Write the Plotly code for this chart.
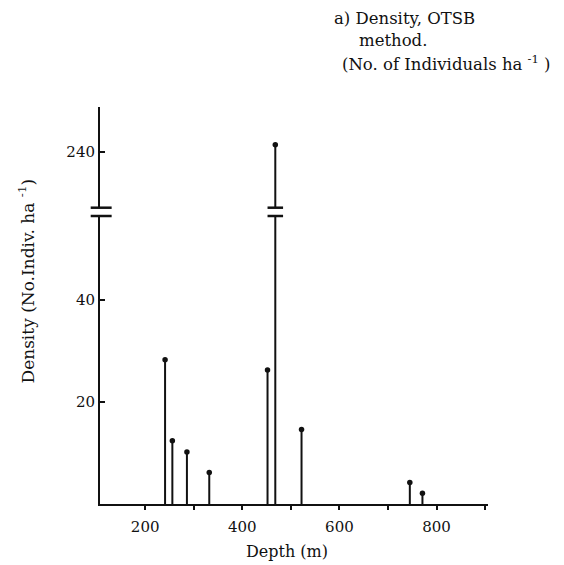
import plotly.graph_objects as go

# Data
depth_m = [241, 256, 286, 332, 452, 468, 522, 745, 771]
density = [28.3, 12.4, 10.2, 6.2, 26.3, 241.4, 14.6, 4.2, 2.1]

x_ticks = [200, 400, 600, 800]
y_ticks_low = [20, 40]
y_ticks_high = [240]

x_range = [107, 906]
low_range = [0, 56.5]
high_range = [229.1, 248.8]

W, H = 564, 565
OFF = 8  # page body margin
L_PX, R_PX, T_PX, B_PX = 100, 488, 107, 504  # target plot-area edges in the picture
ml, mr = L_PX - OFF, W - R_PX + OFF
mt, mb = T_PX - OFF, H - B_PX + OFF
plot_w = R_PX - L_PX
plot_h = B_PX - T_PX
low_top_px = 216.0
high_bot_px = 207.7
low_dom = [0, (B_PX - low_top_px) / plot_h]
high_dom = [(B_PX - high_bot_px) / plot_h, 1]

FONT = "DejaVu Serif"
BLACK = "#111111"

# stems built from data
sx, sy = [], []
for d, v in zip(depth_m, density):
    sx += [d, d, None]
    sy += [0, v, None]

fig = go.Figure()
for xa, ya in (("x", "y"), ("x2", "y2")):
    fig.add_trace(go.Scatter(x=sx, y=sy, mode="lines", xaxis=xa, yaxis=ya,
                             line=dict(color=BLACK, width=2), hoverinfo="skip",
                             showlegend=False))
    fig.add_trace(go.Scatter(x=depth_m, y=density, mode="markers", xaxis=xa, yaxis=ya,
                             marker=dict(color=BLACK, size=5.5), showlegend=False))

tick_font = dict(family=FONT, size=15, color=BLACK)
axis_common = dict(showline=True, linecolor=BLACK, linewidth=2, showgrid=False,
                   zeroline=False, tickfont=tick_font, automargin=False)

fig.update_layout(
    width=W, height=H, margin=dict(l=ml, r=mr, t=mt, b=mb),
    paper_bgcolor="white", plot_bgcolor="white",
    xaxis=dict(domain=[0, 1], range=x_range, anchor="y", tickvals=x_ticks,
               ticks="outside", ticklen=4, tickwidth=1.5, tickcolor=BLACK,
               ticklabelstandoff=4,
               minor=dict(dtick=100, tick0=0, ticks="outside", ticklen=4,
                          tickwidth=1.5, tickcolor=BLACK),
               **axis_common),
    xaxis2=dict(domain=[0, 1], range=x_range, anchor="y2", matches="x", visible=False),
    yaxis=dict(domain=low_dom, range=low_range, anchor="x", tickvals=y_ticks_low,
               ticks="inside", ticklen=5, tickwidth=1.5, tickcolor=BLACK, **axis_common),
    yaxis2=dict(domain=high_dom, range=high_range, anchor="x2", tickvals=y_ticks_high,
                ticks="inside", ticklen=5, tickwidth=1.5, tickcolor=BLACK, **axis_common),
)

# break marks on the y axis
for yref, yv in (("y domain", 1), ("y2 domain", 0)):
    fig.add_shape(type="line", xref="x domain", yref=yref, x0=-0.024, x1=0.03,
                  y0=yv, y1=yv, line=dict(color=BLACK, width=2.5))
# break marks on stems that exceed the lower panel
for d, v in zip(depth_m, density):
    if v > low_range[1]:
        for yref, yv in (("y domain", 1), ("y2 domain", 0)):
            fig.add_shape(type="line", xref="x", yref=yref, x0=d - 16, x1=d + 16,
                          y0=yv, y1=yv, line=dict(color=BLACK, width=2.5))

def py(px):
    return (B_PX - px) / plot_h

def pxx(px):
    return (px - L_PX) / plot_w

fig.add_annotation(text="Depth (m)", xref="paper", yref="paper",
                   x=pxx(286.5), y=py(551), xanchor="center", yanchor="middle",
                   showarrow=False, font=dict(family=FONT, size=16, color=BLACK))
fig.add_annotation(text="Density (No.Indiv. ha <sup>-1</sup>)", textangle=-90,
                   xref="paper", yref="paper", x=pxx(26), y=py(281.5),
                   xanchor="center", yanchor="middle",
                   showarrow=False, font=dict(family=FONT, size=17, color=BLACK))
title_font = dict(family=FONT, size=16.5, color=BLACK)
fig.add_annotation(text="a) Density, OTSB", xref="paper", yref="paper",
                   x=pxx(332), y=py(19), xanchor="left", yanchor="middle",
                   showarrow=False, font=title_font)
fig.add_annotation(text="method.", xref="paper", yref="paper",
                   x=pxx(357), y=py(41), xanchor="left", yanchor="middle",
                   showarrow=False, font=title_font)
fig.add_annotation(text="(No. of Individuals ha <sup>-1</sup> )", xref="paper", yref="paper",
                   x=pxx(340), y=py(63), xanchor="left", yanchor="middle",
                   showarrow=False, font=title_font)

fig.write_html("out.html")
